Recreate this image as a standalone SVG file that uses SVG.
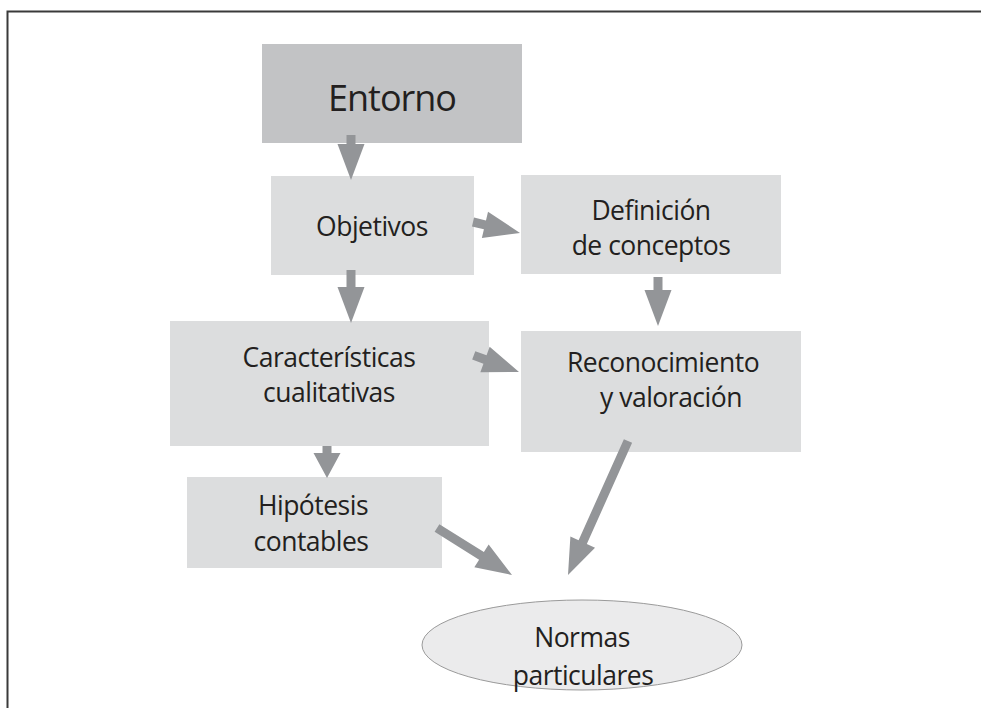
<svg xmlns="http://www.w3.org/2000/svg" width="981" height="708" viewBox="0 0 981 708">
<style>
.box{fill:#dcddde}
.dark{fill:#c2c3c5}
.t{font-family:"Open Sans","Noto Sans","Liberation Sans",sans-serif;font-size:26.5px;fill:#231f20;text-anchor:middle;letter-spacing:-0.5px}
.big{font-size:36px;letter-spacing:-1px}
.arr{fill:#939598}
</style>
<rect width="981" height="708" fill="#ffffff"/>
<path d="M7.5 708 V11.5 H981" fill="none" stroke="#3a3a3a" stroke-width="2"/>
<g id="entorno"><rect class="dark" x="262" y="44" width="260" height="99"/><text class="t big" x="392" y="111">Entorno</text></g>
<g id="objetivos"><rect class="box" x="271" y="176" width="203" height="99"/><text class="t" x="372" y="236">Objetivos</text></g>
<g id="definicion"><rect class="box" x="521" y="175" width="260" height="99"/><text class="t" x="651" y="220">Definición</text><text class="t" x="651" y="255">de conceptos</text></g>
<g id="caracteristicas"><rect class="box" x="170" y="321" width="319" height="125"/><text class="t" x="329" y="367">Características</text><text class="t" x="329" y="402">cualitativas</text></g>
<g id="reconocimiento"><rect class="box" x="521" y="331" width="280" height="121"/><text class="t" x="663" y="372">Reconocimiento</text><text class="t" x="671" y="407">y valoración</text></g>
<g id="hipotesis"><rect class="box" x="187" y="477" width="255" height="91"/><text class="t" x="313" y="515">Hipótesis</text><text class="t" x="311" y="551">contables</text></g>
<g id="normas"><ellipse cx="582" cy="645" rx="160" ry="45" fill="#ebebec" stroke="#9a9a9a" stroke-width="1"/><text class="t" x="582" y="647">Normas</text><text class="t" x="583" y="685">particulares</text></g>
<g id="connectors">
<polygon class="arr" points="346.5,135 346.5,144 337.5,144 351,180 364.5,144 355.5,144 355.5,135"/>
<polygon class="arr" points="346.5,270 346.5,287 337.5,287 351,323 364.5,287 355.5,287 355.5,270"/>
<polygon class="arr" points="653.5,277 653.5,290 644.5,290 658,326 671.5,290 662.5,290 662.5,277"/>
<polygon class="arr" points="322.5,446 322.5,453 313.5,453 327,478 340.5,453 331.5,453 331.5,446"/>
<polygon class="arr" points="471.97,226.38 483.92,229.18 481.87,237.94 520,233 488.03,211.66 485.98,220.42 474.03,217.62"/>
<polygon class="arr" points="472.19,359.58 483.45,363.72 480.34,372.17 519,372 489.66,346.83 486.55,355.28 475.29,351.14"/>
<polygon class="arr" points="434.61,531.81 479.1,559.69 474.32,567.32 512,575 488.66,544.44 483.88,552.07 439.39,524.19"/>
<polygon class="arr" points="623.89,439.16 578.6,540.3 570.39,536.62 568,575 595.03,547.66 586.82,543.98 632.11,442.84"/>
</g>
</svg>
